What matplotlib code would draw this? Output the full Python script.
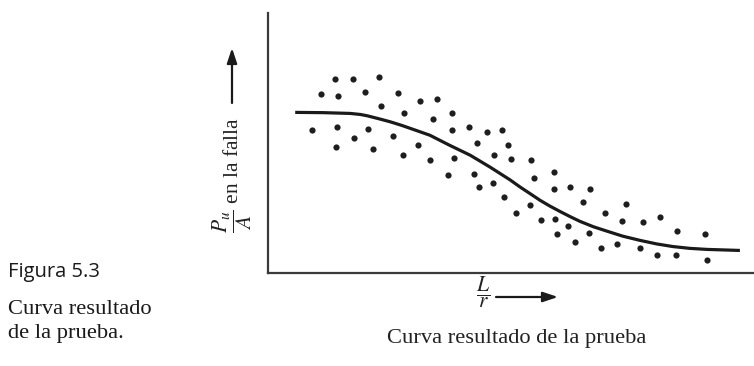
# -*- coding: utf-8 -*-
# Curva resultado de la prueba (Figura 5.3)
# Scatter of test results of P_u/A at failure against L/r, with the fitted curve

import matplotlib
matplotlib.use('Agg')
import matplotlib.pyplot as plt

# Test points (L/r, P_u/A), arbitrary units
test_lr = [13.8, 17.5, 22.8, 10.9, 14.4, 20.0, 26.7, 23.3, 31.3, 34.8,
           28.0, 37.9, 34.0, 9.1, 14.2, 20.6, 17.7, 14.0, 21.6, 25.7,
           30.9, 27.8, 33.3, 37.9, 41.4, 45.1, 48.1, 43.0, 49.4, 46.5,
           50.0, 38.3, 37.0, 42.4, 43.4, 46.3, 54.1, 48.6, 54.7, 58.8,
           58.8, 62.1, 66.3, 51.0, 53.9, 64.8, 69.3, 73.7, 56.2, 59.1,
           61.7, 59.5, 63.2, 66.0, 72.8, 77.2, 80.7, 84.2, 89.9, 68.5,
           71.8, 76.5, 80.0, 84.0, 90.3]
test_pa = [74.5, 74.5, 75.3, 68.7, 68.0, 69.5, 69.1, 64.1, 66.0, 66.8,
           61.4, 61.4, 59.1, 54.8, 56.0, 55.2, 51.7, 48.3, 47.5, 52.5,
           49.0, 45.2, 43.2, 54.8, 56.0, 54.1, 54.8, 49.8, 49.0, 45.2,
           43.6, 44.0, 37.5, 37.8, 32.8, 34.4, 43.2, 29.0, 36.3, 38.6,
           32.0, 32.8, 32.0, 22.8, 25.9, 27.0, 22.8, 26.3, 20.1, 20.5,
           18.1, 14.7, 11.6, 15.1, 19.7, 19.3, 21.2, 15.8, 14.7, 9.3,
           10.8, 9.3, 6.6, 6.9, 5.0]

# Test result curve
curve_lr = [5.6, 11.3, 16.9, 19.0, 20.4, 22.7, 25.1, 27.5, 29.8, 33.3,
            37.4, 41.6, 45.7, 49.8, 51.9, 54.0, 56.0, 58.0, 60.1, 62.2,
            64.2, 67.0, 69.8, 73.0, 76.5, 80.0, 83.3, 86.8, 90.3, 97.1]
curve_pa = [61.7, 61.6, 61.3, 60.9, 60.4, 59.3, 58.1, 56.7, 55.2, 52.9,
            49.0, 45.2, 40.6, 35.7, 32.9, 30.3, 27.8, 25.6, 23.5, 21.5,
            19.7, 17.6, 15.9, 14.0, 12.4, 11.0, 10.0, 9.3, 8.9, 8.5]

# Texts
fig_label = 'Figura 5.3'
fig_caption = 'Curva resultado\nde la prueba.'
y_label = r'$\dfrac{P_u}{A}$ en la falla'
x_label = r'$\dfrac{L}{r}$'
bottom_caption = 'Curva resultado de la prueba'

plt.rcParams['font.family'] = ['Liberation Serif', 'DejaVu Serif']
plt.rcParams['mathtext.fontset'] = 'stix'

W, H = 754, 366
fig = plt.figure(figsize=(W / 100, H / 100), dpi=100)

def fx(px):
    return px / W

def fy(py):
    return 1 - py / H

ax = fig.add_axes([fx(268), fy(272.5), (754 - 268) / W, (272.5 - 13) / H])

ax.scatter(test_lr, test_pa, s=20, color='#1e1e1e', linewidths=0, zorder=3)
ax.plot(curve_lr, curve_pa, color='#1a1a1a', lw=2.3, solid_capstyle='butt',
        solid_joinstyle='round', zorder=2)

ax.set_xlim(0, 100)
ax.set_ylim(0, 100)
ax.set_xticks([])
ax.set_yticks([])
ax.spines['top'].set_visible(False)
ax.spines['right'].set_visible(False)
for s in ['left', 'bottom']:
    ax.spines[s].set_color('#3a3a3a')
    ax.spines[s].set_linewidth(1.6)

# Axis labels with arrows
fig.text(fx(232), fy(175), y_label, rotation=90, ha='center', va='center',
         fontsize=15.5, color='#222222')
fig.text(fx(483), fy(292), x_label, ha='center', va='center',
         fontsize=15.5, color='#222222')

arrow_style = dict(arrowstyle='-|>,head_length=0.9,head_width=0.3',
                   color='#1a1a1a', lw=1.6, shrinkA=0, shrinkB=0)
ax.annotate('', xy=(fx(232), fy(48)), xytext=(fx(232), fy(103)),
            xycoords='figure fraction', textcoords='figure fraction',
            arrowprops=arrow_style)
ax.annotate('', xy=(fx(558), fy(297)), xytext=(fx(496), fy(297)),
            xycoords='figure fraction', textcoords='figure fraction',
            arrowprops=arrow_style)

fig.text(fx(517), fy(338), bottom_caption, ha='center', va='center',
         fontsize=16.2, color='#222222')

# Figure caption on the left
fig.text(fx(8), fy(272), fig_label, ha='left', va='center',
         fontsize=14.5, family=['Open Sans', 'DejaVu Sans'], color='#1a1a1a')
fig.text(fx(8), fy(300), fig_caption, ha='left', va='top',
         fontsize=16.2, linespacing=1.35, color='#1a1a1a')

plt.savefig('out.png', dpi=100)
